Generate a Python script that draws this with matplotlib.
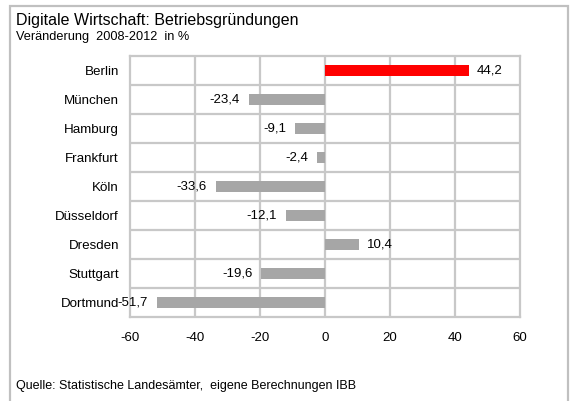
import matplotlib
matplotlib.use("Agg")
import matplotlib.pyplot as plt
from matplotlib.patches import Rectangle

plt.rcParams['font.family'] = ['Liberation Sans', 'DejaVu Sans']

cities = ["Berlin", "München", "Hamburg", "Frankfurt", "Köln",
          "Düsseldorf", "Dresden", "Stuttgart", "Dortmund"]
changes = [44.2, -23.4, -9.1, -2.4, -33.6, -12.1, 10.4, -19.6, -51.7]
bar_colors = ["#ff0000"] + ["#a6a6a6"] * 8
x_ticks = [-60, -40, -20, 0, 20, 40, 60]

W, H = 570, 401
fig = plt.figure(figsize=(W / 100, H / 100), dpi=100)

# outer frame of the chart box
fig.patches.append(Rectangle((10.5 / W, -0.05), 557.5 / W, 1.05 - 5.5 / H,
                             transform=fig.transFigure, fill=False,
                             edgecolor="#c0c0c0", linewidth=1.6))

# plot area in pixel coordinates
left, right, top, bottom = 130, 520, 56, 317
ax = fig.add_axes([left / W, 1 - bottom / H, (right - left) / W, (bottom - top) / H])

ypos = list(range(len(cities)))
ax.barh(ypos, changes, height=0.38, color=bar_colors, zorder=3)
ax.set_xlim(-60, 60)
ax.set_ylim(len(cities) - 0.5, -0.5)

grid_c = "#c8c8c8"
for x in x_ticks[1:-1]:
    ax.axvline(x, color=grid_c, lw=1.6, zorder=1)
for i in range(1, len(cities)):
    ax.axhline(i - 0.5, color=grid_c, lw=1.6, zorder=1)
for s in ax.spines.values():
    s.set_color(grid_c)
    s.set_linewidth(1.6)

ax.set_yticks(ypos)
ax.set_yticklabels(cities, fontsize=9.6)
ax.set_xticks(x_ticks)
ax.set_xticklabels([str(t) for t in x_ticks], fontsize=9.5)
ax.tick_params(length=0)
ax.tick_params(axis='y', pad=8)
ax.tick_params(axis='x', pad=11)

for y, v in zip(ypos, changes):
    label = f"{v:.1f}".replace(".", ",")
    if v < 0:
        ax.annotate(label, (v, y), xytext=(-9, 0), textcoords="offset pixels",
                    ha="right", va="center", fontsize=9.5, zorder=4)
    else:
        ax.annotate(label, (v, y), xytext=(8, 0), textcoords="offset pixels",
                    ha="left", va="center", fontsize=9.5, zorder=4)

fig.text(16 / W, 1 - 21 / H, "Digitale Wirtschaft: Betriebsgründungen",
         fontsize=11.5, ha="left", va="center")
fig.text(16 / W, 1 - 37 / H, "Veränderung  2008-2012  in %",
         fontsize=9.2, ha="left", va="center")
fig.text(16 / W, 1 - 386 / H, "Quelle: Statistische Landesämter,  eigene Berechnungen IBB",
         fontsize=9, ha="left", va="center")

fig.savefig("out.png", dpi=100)
